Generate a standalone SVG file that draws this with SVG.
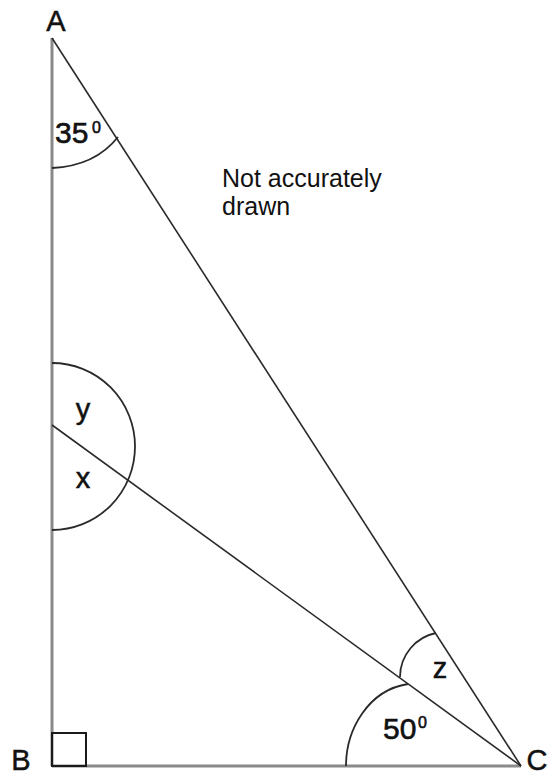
<svg xmlns="http://www.w3.org/2000/svg" width="548" height="775" viewBox="0 0 548 775">
<style>
.lbl{font-family:"Liberation Sans",Arial,sans-serif;font-size:29px;fill:#111;stroke:#111;stroke-width:0.5}
.deg{font-family:"Liberation Sans",Arial,sans-serif;font-size:30px;fill:#111;stroke:#111;stroke-width:0.6}
.sup{font-family:"Liberation Sans",Arial,sans-serif;font-size:16px;fill:#111;stroke:#111;stroke-width:0.6}
.note{font-family:"Liberation Sans",Arial,sans-serif;font-size:25px;fill:#111}
.leg{stroke:#8a8a8a;stroke-width:3;fill:none}
.ln{stroke:#2a2a2a;stroke-width:1.6;fill:none}
.arc{stroke:#2a2a2a;stroke-width:1.8;fill:none}
</style>
<rect width="548" height="775" fill="#ffffff"/>
<g id="triangle">
<line class="leg" x1="52" y1="38" x2="52" y2="766"/>
<line class="leg" x1="52" y1="766" x2="521" y2="766"/>
<line class="ln" x1="52" y1="38" x2="521" y2="766"/>
<line class="ln" x1="52" y1="425" x2="521" y2="766"/>
<rect x="52" y="733" width="34" height="33" fill="none" stroke="#1a1a1a" stroke-width="2"/>
</g>
<g id="arcs">
<path class="arc" d="M52,168 Q95,166 118,137"/>
<path class="arc" d="M52,363 A83,83.5 0 0 1 52,530"/>
<path class="arc" d="M346,766 C346,730 368,690 408,684"/>
<path class="arc" d="M400,677 C400,655 416,637 436,633"/>
</g>
<g id="labels">
<text class="lbl" x="56" y="31" text-anchor="middle">A</text>
<text class="lbl" x="21" y="770" text-anchor="middle">B</text>
<text class="lbl" x="537" y="770" text-anchor="middle">C</text>
<text class="deg" x="55" y="143">35</text>
<text class="sup" x="92" y="133">0</text>
<text class="lbl" x="83" y="419" text-anchor="middle">y</text>
<text class="lbl" x="83" y="488" text-anchor="middle">x</text>
<text class="lbl" x="440" y="678" text-anchor="middle">z</text>
<text class="deg" x="383" y="739">50</text>
<text class="sup" x="418" y="728">0</text>
<text class="note" x="222" y="187">Not accurately</text>
<text class="note" x="222" y="215">drawn</text>
</g>
</svg>
